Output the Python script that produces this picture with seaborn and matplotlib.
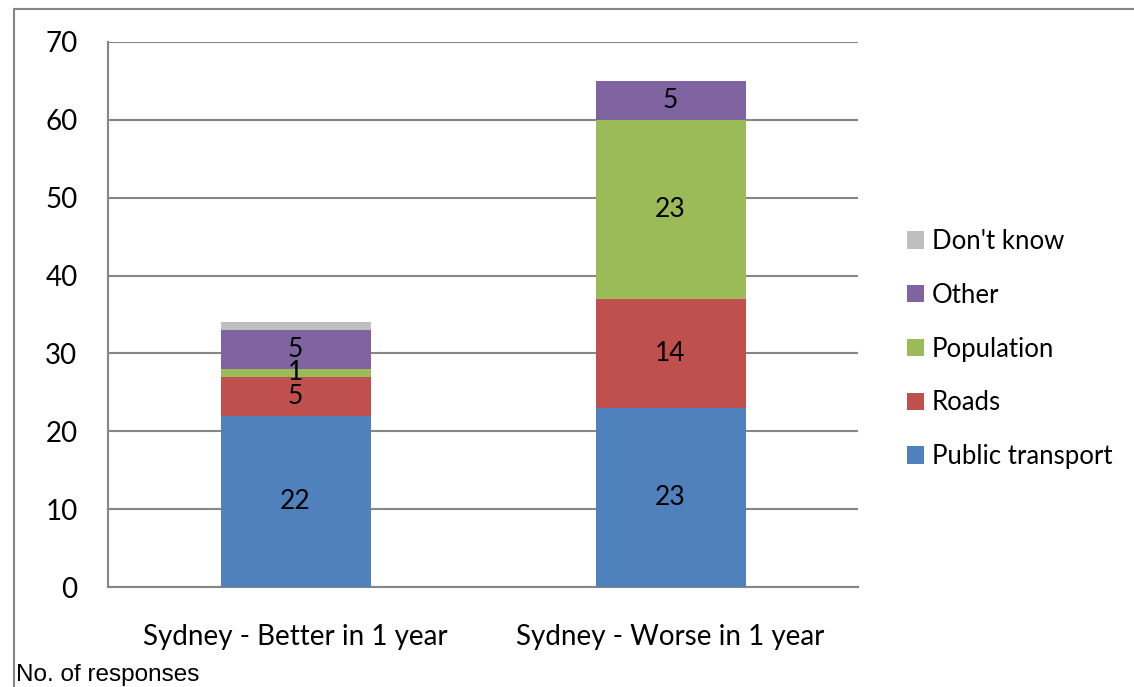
import matplotlib
matplotlib.use("Agg")
import matplotlib.pyplot as plt
from matplotlib.lines import Line2D
from matplotlib.patches import Patch
import seaborn as sns
import numpy as np

categories = ["Sydney - Better in 1 year", "Sydney - Worse in 1 year"]
series_names = ["Public transport", "Roads", "Population", "Other", "Don't know"]
public_transport = [22, 23]
roads = [5, 14]
population = [1, 23]
other = [5, 5]
dont_know = [1, 0]
series_values = [public_transport, roads, population, other, dont_know]
show_labels = [True, True, True, True, False]
colors = ["#4F81BD", "#C0504D", "#9BBB59", "#8064A2", "#BFBFBF"]

sns.set_theme(style="white")
plt.rcParams['font.family'] = ['Lato', 'DejaVu Sans']
plt.rcParams['text.color'] = 'black'
plt.rcParams['xtick.color'] = 'black'
plt.rcParams['ytick.color'] = 'black'

fig = plt.figure(figsize=(11.34, 6.87), dpi=100)
ax = fig.add_axes([108/1134, 1-587/687, 750/1134, 545/687])

bottom = np.zeros(len(categories))
for name, vals, col, lab in zip(series_names, series_values, colors, show_labels):
    vals = np.array(vals, dtype=float)
    sns.barplot(x=categories, y=vals, bottom=bottom, color=col, width=0.4,
                saturation=1, ax=ax, edgecolor="none", linewidth=0, zorder=3)
    if lab:
        for i, v in enumerate(vals):
            if v > 0:
                ax.text(i, bottom[i] + v/2, f"{int(v)}", ha="center", va="center",
                        fontsize=19, color="black", zorder=5)
    bottom += vals

ax.set_ylim(0, 70)
ax.set_xlim(-0.5, 1.5)
ax.set_yticks(range(0, 71, 10))
ax.yaxis.grid(True, color="#868686", linewidth=1.5, zorder=0)
ax.xaxis.grid(False)
for s in ["top", "right"]:
    ax.spines[s].set_visible(False)
ax.spines["left"].set_color("#868686")
ax.spines["left"].set_linewidth(1.5)
ax.spines["bottom"].set_color("#868686")
ax.spines["bottom"].set_linewidth(1.5)
ax.tick_params(axis="y", labelsize=20, pad=22, length=0, labelcolor="black")
ax.tick_params(axis="x", labelsize=20, pad=27, length=0, labelcolor="black")
for t in ax.get_yticklabels():
    t.set_horizontalalignment("right")

handles = [Patch(facecolor=c, edgecolor="none") for c in colors][::-1]
labels = series_names[::-1]
fig.legend(handles, labels, loc="center left", bbox_to_anchor=(884/1134, 1-349/687),
           frameon=False, fontsize=18.5, handlelength=0.66, handleheight=0.66,
           handletextpad=0.3, labelspacing=1.12)

# outer border
fig.add_artist(Line2D([14/1134, 14/1134], [0, 1-8.5/687], color="#868686", lw=1.5,
                      transform=fig.transFigure))
fig.add_artist(Line2D([14/1134, 1], [1-8.5/687, 1-8.5/687], color="#868686", lw=1.5,
                      transform=fig.transFigure))

fig.text(16/1134, 1-675/687, "No. of responses", fontsize=17.5, va="center", ha="left",
         family=["Liberation Sans", "DejaVu Sans"])

fig.savefig("out.png", dpi=100, facecolor="white")
